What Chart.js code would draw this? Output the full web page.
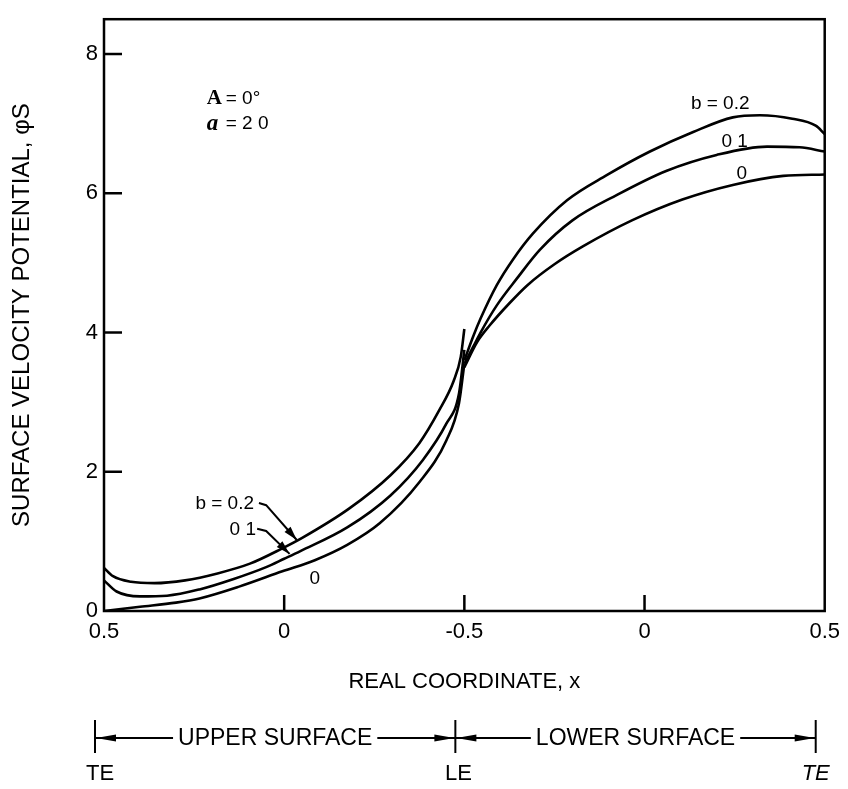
<!DOCTYPE html>
<html>
<head>
<meta charset="utf-8">
<script src="https://cdn.jsdelivr.net/npm/chart.js@4.4.0/dist/chart.umd.min.js"></script>
<style>
html, body { margin: 0; padding: 0; background: #fff; }
#wrap { width: 848px; height: 789px; }
</style>
</head>
<body>
<div id="wrap"><canvas id="potentialChart" width="848" height="789"></canvas></div>
<script>
// position along the chord: 0..2 upper surface (TE -> LE), 2..4 lower surface (LE -> TE)
const xTickLabels = ['0.5', '0', '-0.5', '0', '0.5'];
const yTicks = [0, 2, 4, 6, 8];

const b02Upper = [[0, 0.62], [0.05, 0.5], [0.15, 0.42], [0.28, 0.4], [0.45, 0.44], [0.63, 0.54], [0.81, 0.68],
    [0.99, 0.9], [1.1, 1.05], [1.36, 1.47], [1.59, 1.95], [1.75, 2.41], [1.86, 2.88], [1.94, 3.3], [1.98, 3.65], [2.0, 4.05]];
const b01Upper = [[0, 0.44], [0.07, 0.28], [0.2, 0.21], [0.35, 0.22], [0.53, 0.31], [0.72, 0.46], [0.9, 0.63],
    [1.0, 0.75], [1.09, 0.86], [1.35, 1.2], [1.59, 1.66], [1.77, 2.17], [1.9, 2.69], [1.97, 3.12], [2.0, 3.75]];
const b0Upper = [[0, 0], [0.2, 0.06], [0.4, 0.12], [0.53, 0.18], [0.75, 0.35], [0.99, 0.57], [1.17, 0.73],
    [1.35, 0.95], [1.53, 1.26], [1.75, 1.85], [1.9, 2.45], [1.97, 2.98], [2.0, 3.55]];

const b02Lower = [[2.0, 3.6], [2.05, 3.95], [2.09, 4.2], [2.18, 4.68], [2.27, 5.05], [2.38, 5.42], [2.57, 5.9],
    [2.79, 6.26], [3.03, 6.6], [3.27, 6.88], [3.49, 7.09], [3.64, 7.12], [3.82, 7.07], [3.95, 6.97], [4.0, 6.85]];
const b01Lower = [[2.0, 3.55], [2.05, 3.8], [2.09, 4.0], [2.18, 4.39], [2.29, 4.77], [2.42, 5.19], [2.6, 5.61],
    [2.85, 5.98], [3.12, 6.32], [3.4, 6.55], [3.68, 6.67], [3.86, 6.66], [4.0, 6.6]];
const b0Lower = [[2.0, 3.5], [2.07, 3.86], [2.14, 4.1], [2.25, 4.42], [2.35, 4.68], [2.5, 4.98], [2.66, 5.24],
    [2.93, 5.61], [3.21, 5.91], [3.49, 6.12], [3.77, 6.25], [4.0, 6.27]];

const toXY = arr => arr.map(p => ({ x: p[0], y: p[1] }));

function curve(label, pts) {
    return {
        label: label,
        data: toXY(pts),
        borderColor: '#000',
        borderWidth: 2.6,
        fill: false,
        pointRadius: 0,
        cubicInterpolationMode: 'monotone'
    };
}

const FONT = '"Liberation Sans", Arial, Helvetica, sans-serif';

function arrowHead(ctx, tx, ty, fx, fy, len, half) {
    const a = Math.atan2(ty - fy, tx - fx);
    ctx.beginPath();
    ctx.moveTo(tx, ty);
    ctx.lineTo(tx - len * Math.cos(a) + half * Math.sin(a), ty - len * Math.sin(a) - half * Math.cos(a));
    ctx.lineTo(tx - len * Math.cos(a) - half * Math.sin(a), ty - len * Math.sin(a) + half * Math.cos(a));
    ctx.closePath();
    ctx.fill();
}

const framePlugin = {
    id: 'frame',
    afterDatasetsDraw(chart) {
        const ctx = chart.ctx;
        const area = chart.chartArea;
        const xs = chart.scales.x;
        const ys = chart.scales.y;
        const px = v => xs.getPixelForValue(v);
        const py = v => ys.getPixelForValue(v);

        ctx.save();
        ctx.strokeStyle = '#000';
        ctx.fillStyle = '#000';
        ctx.lineWidth = 2.5;
        ctx.strokeRect(area.left, area.top, area.right - area.left, area.bottom - area.top);

        // inward ticks
        yTicks.forEach(v => {
            if (v === 0) return;
            ctx.beginPath();
            ctx.moveTo(area.left, py(v));
            ctx.lineTo(area.left + 18, py(v));
            ctx.stroke();
        });
        [1, 2, 3].forEach(v => {
            ctx.beginPath();
            ctx.moveTo(px(v), area.bottom);
            ctx.lineTo(px(v), area.bottom - 16);
            ctx.stroke();
        });

        // curve labels
        ctx.textAlign = 'center';
        ctx.textBaseline = 'middle';
        ctx.font = '19px ' + FONT;
        ctx.fillText('b = 0.2', px(3.42), py(7.29));
        ctx.fillText('0 1', px(3.5), py(6.74));
        ctx.fillText('0', px(3.54), py(6.28));
        ctx.fillText('b = 0.2', px(0.67), py(1.54));
        ctx.fillText('0 1', px(0.77), py(1.16));
        ctx.fillText('0', px(1.17), py(0.47));

        // leaders with arrows
        ctx.lineWidth = 2;
        const leaders = [
            [[0.86, 1.55], [0.9, 1.52], [1.07, 1.02]],
            [[0.85, 1.18], [0.9, 1.15], [1.03, 0.82]]
        ];
        leaders.forEach(l => {
            ctx.beginPath();
            ctx.moveTo(px(l[0][0]), py(l[0][1]));
            ctx.lineTo(px(l[1][0]), py(l[1][1]));
            ctx.lineTo(px(l[2][0]), py(l[2][1]));
            ctx.stroke();
            arrowHead(ctx, px(l[2][0]), py(l[2][1]), px(l[1][0]), py(l[1][1]), 14, 4);
        });

        // A and alpha annotation
        ctx.textAlign = 'left';
        ctx.font = 'bold 21px "Liberation Serif", "Times New Roman", serif';
        ctx.fillText('A', px(0.57), py(7.36));
        ctx.font = 'bold italic 23px "Liberation Serif", "Times New Roman", serif';
        ctx.fillText('a', px(0.57), py(7.0));
        ctx.font = '19px ' + FONT;
        ctx.fillText('= 0°', px(0.57) + 19, py(7.36));
        ctx.fillText('= 2 0', px(0.57) + 19, py(7.0));

        // upper / lower surface annotation
        const y0 = area.bottom + 127;
        const bars = [0, 2, 4].map(v => px(v) - 9);
        ctx.lineWidth = 2;
        bars.forEach(b => {
            ctx.beginPath();
            ctx.moveTo(b, y0 - 18);
            ctx.lineTo(b, y0 + 15);
            ctx.stroke();
        });
        ctx.font = '23px ' + FONT;
        ctx.textAlign = 'center';
        const spans = [['UPPER SURFACE', bars[0], bars[1]], ['LOWER SURFACE', bars[1], bars[2]]];
        spans.forEach(s => {
            const mid = (s[1] + s[2]) / 2;
            const w = ctx.measureText(s[0]).width;
            ctx.fillText(s[0], mid, y0 + 1);
            ctx.beginPath();
            ctx.moveTo(s[1], y0);
            ctx.lineTo(mid - w / 2 - 5, y0);
            ctx.moveTo(mid + w / 2 + 5, y0);
            ctx.lineTo(s[2], y0);
            ctx.stroke();
            arrowHead(ctx, s[1] + 1, y0, s[1] + 30, y0, 20, 3.5);
            arrowHead(ctx, s[2] - 1, y0, s[2] - 30, y0, 20, 3.5);
        });
        ctx.font = '22px ' + FONT;
        ctx.fillText('TE', bars[0] + 5, y0 + 36);
        ctx.fillText('LE', bars[1] + 3, y0 + 36);
        ctx.font = 'italic 22px ' + FONT;
        ctx.fillText('TE', bars[2], y0 + 36);
        ctx.restore();
    }
};

const chartItem = document.getElementById('potentialChart');
if (chartItem) {
    const potentialChart = new Chart(chartItem, {
        type: 'line',
        data: {
            datasets: [
                curve('b = 0.2 upper', b02Upper),
                curve('b = 0.1 upper', b01Upper),
                curve('b = 0 upper', b0Upper),
                curve('b = 0.2 lower', b02Lower),
                curve('b = 0.1 lower', b01Lower),
                curve('b = 0 lower', b0Lower)
            ]
        },
        options: {
            responsive: false,
            animation: false,
            devicePixelRatio: 1,
            layout: {
                padding: { left: 0, top: 8, right: 22, bottom: 0 }
            },
            plugins: {
                legend: { display: false },
                tooltip: { enabled: false }
            },
            scales: {
                x: {
                    type: 'linear',
                    min: 0,
                    max: 4,
                    afterBuildTicks: scale => { scale.ticks = [0, 1, 2, 3, 4].map(v => ({ value: v })); },
                    afterFit: scale => { scale.height = 178; },
                    border: { display: false },
                    grid: { display: false, drawTicks: false },
                    ticks: {
                        autoSkip: false,
                        maxRotation: 0,
                        padding: 8,
                        color: '#000',
                        font: { family: FONT, size: 22 },
                        callback: (v, i) => xTickLabels[i]
                    },
                    title: {
                        display: true,
                        text: 'REAL COORDINATE, x',
                        color: '#000',
                        font: { family: FONT, size: 22 },
                        padding: { top: 0, bottom: 94 }
                    }
                },
                y: {
                    min: 0,
                    max: 8.5,
                    afterBuildTicks: scale => { scale.ticks = yTicks.map(v => ({ value: v })); },
                    afterFit: scale => { scale.width = 104; },
                    border: { display: false },
                    grid: { display: false, drawTicks: false },
                    ticks: {
                        padding: 6,
                        color: '#000',
                        font: { family: FONT, size: 22 }
                    },
                    title: {
                        display: true,
                        text: 'SURFACE VELOCITY POTENTIAL, φS',
                        color: '#000',
                        font: { family: FONT, size: 24 },
                        padding: { top: 8, bottom: 0 }
                    }
                }
            }
        },
        plugins: [framePlugin]
    });
}
</script>
</body>
</html>
